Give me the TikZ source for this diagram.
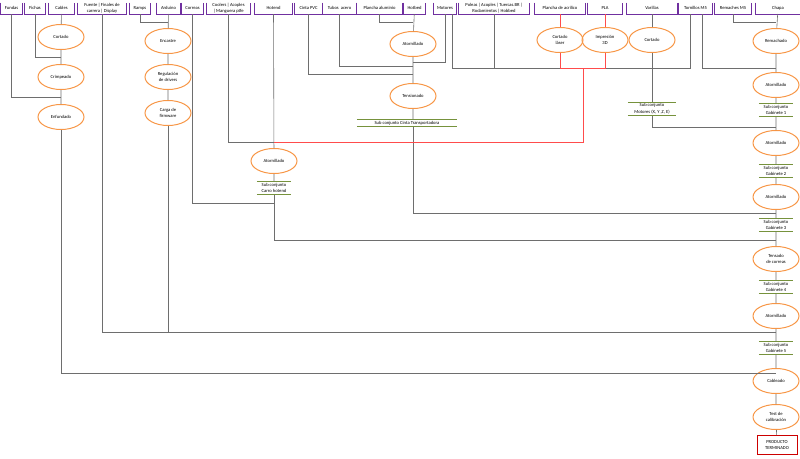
\documentclass[tikz,border=0pt]{standalone}
\usepackage{fontspec}
\setmainfont{Carlito}
\usetikzlibrary{shapes.geometric}

\definecolor{opc}{RGB}{247,150,70}
\definecolor{itemc}{RGB}{112,48,160}
\definecolor{barc}{RGB}{118,146,60}
\definecolor{linkc}{RGB}{110,110,110}

\tikzset{
  item/.style={inner sep=0pt, minimum height=11pt, align=center, font=\fontsize{4.6}{5.2}\selectfont},
  itemline/.style={itemc, line width=0.7pt},
  op/.style={ellipse, draw=opc, line width=1pt, minimum width=46pt, minimum height=25pt, inner sep=0pt, align=center, font=\fontsize{4.6}{5.4}\selectfont},
  sub/.style={inner sep=1.5pt, minimum width=48pt, align=center, font=\fontsize{4.6}{6.6}\selectfont},
  bar/.style={barc, line width=1pt},
  link/.style={linkc, line width=0.6pt},
  redlink/.style={red!70!white, line width=0.6pt}
}

% top part: name, left, width, text
\newcommand{\topitem}[4]{%
  \node[item, minimum width=#3pt, anchor=south] (#1) at ({#2+#3/2},14) {#4};
  \draw[itemline] (#1.north west) |- (#1.south east) -- (#1.north east);
}
% sub assembly with bars
\newcommand{\subasm}[4]{%
  \node[sub, minimum width=#4pt] (#1) at (#2) {#3};
  \draw[bar] (#1.north west) -- (#1.north east);
  \draw[bar] (#1.south west) -- (#1.south east);
}

\begin{document}
\begin{tikzpicture}[x=1pt,y=-1pt]
\useasboundingbox (0,0) rectangle (800,458);

% parts
\topitem{fundas}{1}{21}{Fundas}
\topitem{fichas}{25}{20}{Fichas}
\topitem{cables}{49}{25}{Cables}
\topitem{fuente}{78}{48}{Fuente\,|\,Finales de\\carrera\,|\,Display}
\topitem{ramps}{130}{20}{Ramps}
\topitem{arduino}{157}{23}{Arduino}
\topitem{correas}{182}{21}{Correas}
\topitem{coolers}{207}{43}{Coolers\,|\,Acoples\\|\,Manguera ptfe}
\topitem{hotend}{255}{37}{Hotend}
\topitem{cinta}{295}{27}{Cinta PVC}
\topitem{tubos}{323}{33}{Tubos\ \ acero}
\topitem{plancha}{357}{45}{Plancha aluminio}
\topitem{hotbed}{404}{21}{Hotbed}
\topitem{motores}{434}{22}{Motores}
\topitem{poleas}{459}{70}{Poleas\,|\,Acoples\,|\,Tuercas.BR\,|\\Rodamientos\,|\,Hobbed}
\topitem{acrilico}{535}{50}{Plancha de acrilico}
\topitem{pla}{588}{34}{PLA}
\topitem{varillas}{627}{50}{Varillas}
\topitem{tornillos}{679}{33}{Tornillos M5}
\topitem{remaches}{715}{36}{Remaches M5}
\topitem{chapa}{756}{44}{Chapa}

% operations
\node[op] (cortado) at (61,37) {Cortado};
\node[op] (crimpeado) at (61,77) {Crimpeado};
\node[op] (enfundado) at (61,117) {Enfundado};
\node[op] (encastre) at (168,41) {Encastre};
\node[op] (regulacion) at (168,77) {Regulación\\de drivers};
\node[op] (firmware) at (168,113) {Carga de\\firmware};
\node[op] (atorhot) at (274,161) {Atornillado};
\node[op] (atorbed) at (413,44) {Atornillado};
\node[op] (tensionado) at (413,96) {Tensionado};
\node[op] (laser) at (560,40) {Cortado\\láser};
\node[op] (impresion) at (605,40) {Impresión\\3D};
\node[op] (cortvar) at (652,40) {Cortado};
\node[op] (remachado) at (776,41) {Remachado};
\node[op] (ator1) at (776,85) {Atornillado};
\node[op] (ator2) at (776,143) {Atornillado};
\node[op] (ator3) at (776,197) {Atornillado};
\node[op] (tensado) at (776,259) {Tensado\\de correas};
\node[op] (ator4) at (776,316) {Atornillado};
\node[op] (cableado) at (776,381) {Cableado};
\node[op] (test) at (776,417) {Test de\\calibración};
\node[draw=red!80!black, line width=1pt, minimum width=40pt, minimum height=19pt, inner sep=0pt, align=center, font=\fontsize{4.6}{5.4}\selectfont] (producto) at (777,445) {PRODUCTO\\TERMINADO};

% sub assemblies
\subasm{subhot}{274,188}{Sub conjunto\\Carro hotend}{34}
\subasm{subcinta}{407,123}{Sub conjunto Cinta Transportadora}{100}
\subasm{submot}{652,109}{Sub conjunto\\Motores (X, Y ,Z, E)}{48}
\subasm{gab1}{776,110}{Sub conjunto\\Gabinete 1}{34}
\subasm{gab2}{776,171}{Sub conjunto\\Gabinete 2}{34}
\subasm{gab3}{776,225}{Sub conjunto\\Gabinete 3}{34}
\subasm{gab4}{776,287}{Sub conjunto\\Gabinete 4}{34}
\subasm{gab5}{776,348}{Sub conjunto\\Gabinete 5}{34}

% junctions
\coordinate (jcab1) at (61,57);
\coordinate (jcab2) at (61,97);
\coordinate (jard) at (168,22);
\coordinate (jhot1) at (274,142);
\coordinate (jhot2) at (274,203);
\coordinate (jbed1) at (413,22);
\coordinate (jbed2) at (413,62);
\coordinate (jbed3) at (413,66);
\coordinate (jbed4) at (413,74);
\coordinate (jmotl) at (452,14);
\coordinate (jmotr) at (690,14);
\coordinate (jmot) at (690,68);
\coordinate (jtorr) at (702,14);
\coordinate (jred) at (583,68);
\coordinate (jtor) at (776,68);
\coordinate (jrem) at (776,22);
\coordinate (jg1) at (776,127);
\coordinate (jg2) at (776,213);
\coordinate (jg3) at (776,240);
\coordinate (jg4) at (776,332);
\coordinate (jg5) at (776,373);

% cables
\draw[link] (cables) -- (cortado) -- (crimpeado) -- (enfundado);
\draw[link] (fichas) |- (jcab1);
\draw[link] (fundas) |- (jcab2);
\draw[link] (enfundado) |- (jg5);
% electronics
\draw[link] (ramps) |- (jard);
\draw[link] (arduino) -- (encastre) -- (regulacion) -- (firmware);
\draw[link] (firmware) |- (jg4);
\draw[link] (fuente) |- (jg4);
% carro hotend
\draw[link] (hotend) -- (atorhot) -- (subhot);
\draw[link] (coolers) |- (jhot1);
\draw[link] (correas) |- (jhot2);
\draw[link] (subhot) |- (jg3);
% cinta transportadora
\draw[link] (plancha) |- (jbed1);
\draw[link] (hotbed) -- (atorbed) -- (tensionado) -- (subcinta.north -| tensionado);
\draw[link] (motores) |- (jbed2);
\draw[link] (tubos) |- (jbed3);
\draw[link] (cinta) |- (jbed4);
\draw[link] (subcinta.south -| tensionado) |- (jg2);
% motores
\draw[link] (jmotl) |- (jmot) -- (jmotr);
\draw[link] (poleas) -- (poleas |- jmot);
\draw[link] (varillas) -- (cortvar) -- (submot);
\draw[redlink] (acrilico.south -| laser) -- (laser) |- (jred);
\draw[redlink] (pla.south -| impresion) -- (impresion) |- (jred);
\draw[redlink] (jred) |- (jhot1);
\draw[link] (submot) |- (jg1);
% gabinete
\draw[link] (remaches) |- (jrem);
\draw[link] (jtorr) |- (jtor);
\draw[link] (chapa) -- (remachado) -- (ator1) -- (gab1) -- (ator2) -- (gab2) -- (ator3) -- (gab3) -- (tensado) -- (gab4) -- (ator4) -- (gab5) -- (cableado) -- (test) -- (producto);
\end{tikzpicture}
\end{document}
